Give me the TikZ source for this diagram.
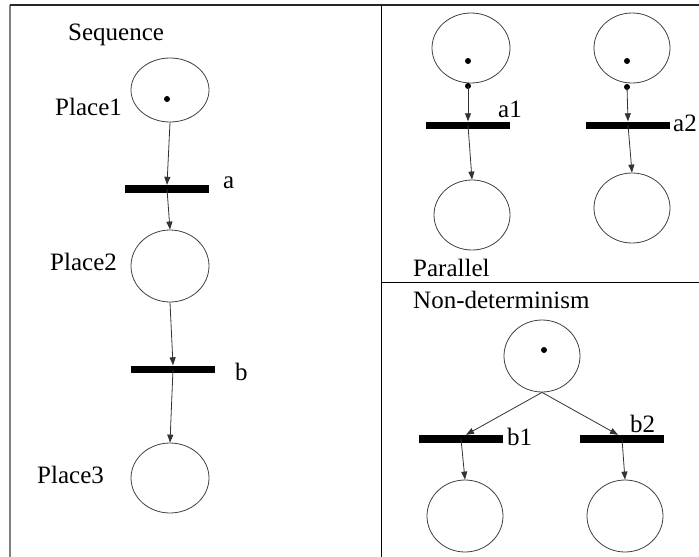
\documentclass[tikz,border=0pt]{standalone}
\usepackage{fontspec}
\setmainfont{Liberation Serif}
\usetikzlibrary{shapes.geometric,arrows.meta}
\begin{document}
\begin{tikzpicture}[x=1pt,y=-1pt,
  place/.style={draw=black!75,line width=0.8pt,ellipse,inner sep=0pt,minimum width=78pt,minimum height=70pt},
  trans/.style={fill=black,draw=none,inner sep=0pt,minimum width=84pt,minimum height=8pt},
  token/.style={fill=black,circle,inner sep=0pt,minimum size=6pt},
  lbl/.style={font=\fontsize{25}{28}\selectfont,anchor=base west,inner sep=0pt},
  arr/.style={draw=black!80,line width=0.8pt,-{Triangle[length=8pt,width=6pt]}}]
\useasboundingbox (0,0) rectangle (699,557);
% frame
\draw[gray,line width=2pt] (10,5) -- (10,557);
\draw[black!85,line width=1.2pt] (10,5) -- (699,5);
\draw[black,line width=1pt] (381,5) -- (381,557);
\draw[black,line width=1pt] (381,282) -- (699,282);

% ---------- Sequence ----------
\node[lbl] (tseq) at (68,40) {Sequence};
\node[place,minimum height=64pt] (P1) at (170,90) {};
\node[token] (k1) at (167,99) {};
\node[lbl] (tp1) at (55,115) {Place1};
\node[trans] (ta) at (167,189) {};
\node[lbl] (tla) at (223,188) {a};
\node[place,minimum height=72pt] (P2) at (170,266) {};
\node[lbl] (tp2) at (50,270) {Place2};
\node[trans,minimum height=7pt] (tb) at (173,369) {};
\node[lbl] (tlb) at (235,380) {b};
\node[place] (P3) at (170,478) {};
\node[lbl] (tp3) at (37,483) {Place3};
\draw[arr] (P1.south) -- (ta.north);
\draw[arr] (ta.center) -- (P2.north);
\draw[arr] (P2.south) -- (tb.north);
\draw[arr] (tb.center) -- (P3.north);

% ---------- Parallel ----------
\node[place] (Q1) at (471,48) {};
\node[token] (k2) at (468,61) {};
\node[token] (d1) at (468,86) {};
\node[trans,minimum height=7pt] (ta1) at (468,125) {};
\node[lbl] (tla1) at (498,117) {a1};
\node[place,minimum width=76pt] (R1) at (472,215) {};
\node[place,minimum width=76pt] (Q2) at (632,48) {};
\node[token] (k3) at (627,61) {};
\node[token] (d2) at (627,87) {};
\node[trans,minimum height=7pt] (ta2) at (628,125) {};
\node[lbl] (tla2) at (673,131) {a2};
\node[place,minimum width=76pt] (R2) at (632,208) {};
\node[lbl] (tpar) at (413,276) {Parallel};
\draw[arr] (d1.center) -- (ta1.north);
\draw[arr] (ta1.center) -- (R1.north);
\draw[arr] (d2.center) -- (ta2.north);
\draw[arr] (ta2.center) -- (R2.north);

% ---------- Non-determinism ----------
\node[lbl] (tnd) at (413,308) {Non-determinism};
\node[place,minimum width=76pt,minimum height=72pt] (N0) at (542,356) {};
\node[token] (k4) at (544,350) {};
\node[trans] (tb1) at (461,439) {};
\node[lbl] (tlb1) at (507,445) {b1};
\node[trans] (tb2) at (622,439) {};
\node[lbl] (tlb2) at (630,432) {b2};
\node[place,minimum width=76pt,minimum height=72pt] (L1) at (465,516) {};
\node[place,minimum width=76pt,minimum height=72pt] (L2) at (625,516) {};
\coordinate (e1) at ([xshift=5pt]tb1.north);
\coordinate (e2) at ([xshift=-4pt]tb2.north);
\draw[arr] (N0.south) -- (e1);
\draw[arr] (N0.south) -- (e2);
\draw[arr] (tb1.center) -- (L1.north);
\draw[arr] (tb2.center) -- (L2.north);
\end{tikzpicture}
\end{document}
